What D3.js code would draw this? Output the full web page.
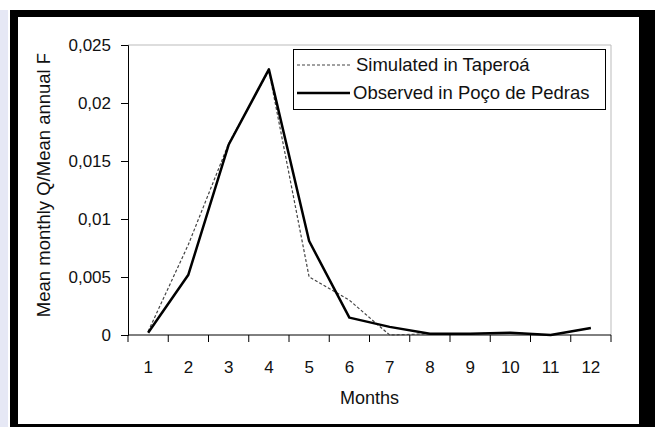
<!DOCTYPE html>
<html><head><meta charset="utf-8">
<script src="https://cdn.jsdelivr.net/npm/d3@7"></script>
<style>
html,body{margin:0;padding:0;background:#fff;}
svg{display:block;}
text{font-family:"Liberation Sans",Arial,sans-serif;fill:#111;}
</style></head>
<body>
<svg id="chart" width="655" height="427"></svg>
<script>
const months = [1,2,3,4,5,6,7,8,9,10,11,12];
const simulated = [0.0003,0.0078,0.0165,0.0228,0.0050,0.0030,0.0000,0.0001,0.0001,0.0002,0.0000,0.0006];
const observed  = [0.0002,0.0052,0.0164,0.0229,0.0081,0.0015,0.0007,0.0001,0.0001,0.0002,0.0000,0.0006];
const yTicks = [0,0.005,0.01,0.015,0.02,0.025];
const yTickLabels = ["0","0,005","0,01","0,015","0,02","0,025"];
const seriesNames = ["Simulated in Taperoá","Observed in Poço de Pedras"];
const xTitle = "Months";
const yTitle = "Mean monthly Q/Mean annual F";

const svg = d3.select("#chart");
// frame
svg.append("rect").attr("x",0).attr("y",10).attr("width",8).attr("height",417).attr("fill","#e6e8f5");
svg.append("rect").attr("x",10).attr("y",10).attr("width",645).attr("height",417).attr("fill","#000");
svg.append("rect").attr("x",18).attr("y",17).attr("width",621).attr("height",407).attr("fill","#fff");

const L=128, R=611, T=45, B=335;
const x = d3.scaleBand().domain(months).range([L,R]).padding(0);
const y = d3.scaleLinear().domain([0,0.025]).range([B,T]);

// plot area border (light)
svg.append("path").attr("d",`M${L},${T}H${R}V${B}`).attr("fill","none").attr("stroke","#bbb").attr("stroke-width",1);

// y axis
const yAxis = d3.axisLeft(y).tickValues(yTicks).tickSize(7).tickPadding(10)
  .tickFormat((d,i)=>yTickLabels[i]);
const gy = svg.append("g").attr("transform",`translate(${L},0)`).call(yAxis);
gy.select(".domain").attr("stroke","#000");
gy.selectAll(".tick line").attr("stroke","#000");
gy.selectAll("text").attr("font-size",17).attr("font-family","Liberation Sans, Arial, sans-serif").attr("fill","#111");

// x axis: ticks at band boundaries
const gx = svg.append("g").attr("transform",`translate(0,${B})`);
gx.append("line").attr("x1",L).attr("x2",R).attr("stroke","#000");
const bounds = months.map(m=>x(m)).concat([R]);
gx.selectAll("line.tk").data(bounds).join("line").attr("class","tk")
  .attr("x1",d=>d).attr("x2",d=>d).attr("y1",0).attr("y2",7).attr("stroke","#000");
gx.selectAll("text").data(months).join("text")
  .attr("x",d=>x(d)+x.bandwidth()/2).attr("y",38).attr("text-anchor","middle")
  .attr("font-size",17).text(d=>d);

// titles
svg.append("text").attr("x",(L+R)/2).attr("y",404).attr("text-anchor","middle").attr("font-size",18).text(xTitle);
svg.append("text").attr("transform",`translate(50,${(T+B)/2+ -5}) rotate(-90)`).attr("text-anchor","middle").attr("font-size",18.5).text(yTitle);

// lines
const line = d3.line().x((d,i)=>x(months[i])+x.bandwidth()/2).y(d=>y(d));
svg.append("path").datum(simulated).attr("d",line).attr("fill","none")
  .attr("stroke","#444").attr("stroke-width",1.2).attr("stroke-dasharray","3,2");
svg.append("path").datum(observed).attr("d",line).attr("fill","none")
  .attr("stroke","#000").attr("stroke-width",2.5).attr("stroke-linejoin","round");

// legend
const lg = svg.append("g");
lg.append("rect").attr("x",293.5).attr("y",49.5).attr("width",312).attr("height",60)
  .attr("fill","#fff").attr("stroke","#000").attr("stroke-width",1);
lg.append("line").attr("x1",297).attr("x2",352).attr("y1",65).attr("y2",65)
  .attr("stroke","#444").attr("stroke-width",1.2).attr("stroke-dasharray","3,2");
lg.append("line").attr("x1",297).attr("x2",350).attr("y1",93).attr("y2",93)
  .attr("stroke","#000").attr("stroke-width",2.5);
lg.append("text").attr("x",356).attr("y",71).attr("font-size",18.5).text(seriesNames[0]);
lg.append("text").attr("x",353).attr("y",99).attr("font-size",18.5).text(seriesNames[1]);
</script>
</body></html>
